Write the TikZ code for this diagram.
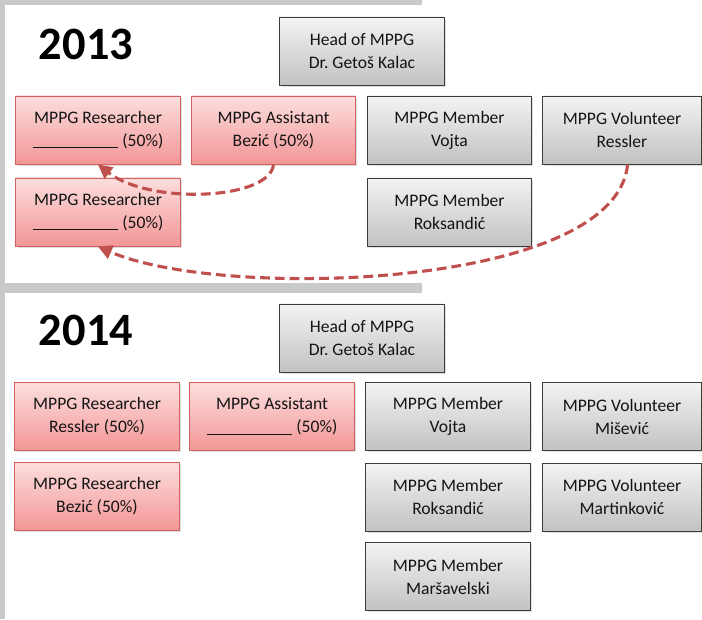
\documentclass[tikz,border=0pt]{standalone}
\usepackage{fontspec}
\setmainfont{Carlito}
\usepackage{tikz}
\usetikzlibrary{arrows.meta, positioning, shadows}
\usepackage{xcolor}
\definecolor{framegray}{RGB}{201,202,204}
\definecolor{redtop}{RGB}{252,222,222}
\definecolor{redbot}{RGB}{243,150,150}
\definecolor{redline}{RGB}{212,96,96}
\definecolor{graytop}{RGB}{243,243,243}
\definecolor{graybot}{RGB}{194,194,194}
\definecolor{grayline}{RGB}{60,60,60}
\definecolor{darrow}{RGB}{192,80,77}
\definecolor{txt}{RGB}{20,20,20}
\tikzset{
  pbox/.style={rectangle, line width=0.7pt, text=txt,
    minimum width=4.1cm, minimum height=1.7cm, align=center,
    inner sep=2pt, font=\fontsize{12.5}{16.3}\selectfont,
    drop shadow={opacity=0.25, shadow xshift=1.2pt, shadow yshift=-1.2pt}},
  pboxR/.style={pbox, draw=redline, top color=redtop, bottom color=redbot},
  pboxGr/.style={pbox, draw=grayline, top color=graytop, bottom color=graybot},
  pboxGrN/.style={pboxGr, minimum width=3.95cm},
  yr/.style={font=\fontsize{33}{36}\selectfont\bfseries, text=black},
  darr/.style={-{Triangle[length=10pt, width=10pt]}, draw=darrow,
    line width=2.2pt, dash pattern=on 7pt off 3.5pt},
}
\newcommand{\blank}{\rule[-1.2pt]{61pt}{0.7pt}}

\begin{document}
\begin{tikzpicture}[x=0.025cm, y=-0.025cm]
  \useasboundingbox (0,0) rectangle (702,619);
  % Gray frame round the two panels
  \fill[framegray] (0,0) rectangle (422,5);
  \fill[framegray] (0,0) rectangle (5,619);
  \fill[framegray] (0,283) rectangle (422,293);

  % ---- 2013 ----
  \node[yr] (y13) at (86,44) {2013};
  \node[pboxGr] (h13) at (362,51) {Head of MPPG\\Dr.\ Getoš Kalac};
  \node[pboxR] (r13a) at (98,130) {MPPG Researcher\\\blank{} (50\%)};
  \node[pboxR] (as13) at (273.5,130) {MPPG Assistant\\Bezić (50\%)};
  \node[pboxGr] (mv13) at (449.5,130) {MPPG Member\\Vojta};
  \node[pboxGrN] (vo13) at (622,130) {MPPG Volunteer\\Ressler};
  \node[pboxGr] (mr13) at (449.5,212) {MPPG Member\\Roksandić};
  \node[pboxR] (r13b) at (98,212) {MPPG Researcher\\\blank{} (50\%)};

  % Moves to 2014
  \draw[darr] (as13.south) .. controls (270,200) and (150,205) .. (r13a.south);
  \draw[darr] ([xshift=4pt]vo13.south) .. controls (615,290) and (220,300) .. (r13b.south);

  % ---- 2014 ----
  \node[yr] (y14) at (86,330) {2014};
  \node[pboxGr] (h14) at (362,338) {Head of MPPG\\Dr.\ Getoš Kalac};
  \node[pboxR] (r14a) at (97,416.5) {MPPG Researcher\\Ressler (50\%)};
  \node[pboxR] (as14) at (272,416.5) {MPPG Assistant\\\blank{} (50\%)};
  \node[pboxGr] (mv14) at (448,416.5) {MPPG Member\\Vojta};
  \node[pboxGrN] (vm14) at (622,416.5) {MPPG Volunteer\\Mišević};
  \node[pboxR] (r14b) at (97,496) {MPPG Researcher\\Bezić (50\%)};
  \node[pboxGr] (mr14) at (448,497) {MPPG Member\\Roksandić};
  \node[pboxGrN] (vk14) at (622,497) {MPPG Volunteer\\Martinković};
  \node[pboxGr] (mm14) at (448,576.5) {MPPG Member\\Maršavelski};
\end{tikzpicture}
\end{document}
